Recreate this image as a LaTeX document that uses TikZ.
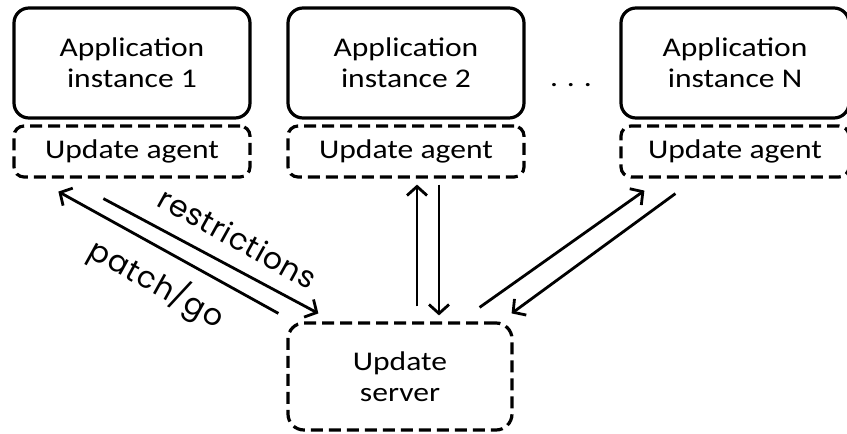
\documentclass[tikz,border=0pt]{standalone}
\usepackage{fontspec}
\setmainfont{Carlito}[FakeStretch=1.17]
\newfontfamily\labelfont{Poppins}[LetterSpace=3]
\usetikzlibrary{arrows.meta}
\begin{document}
\begin{tikzpicture}[x=1pt,y=-1pt,
  boxtext/.style={font=\fontsize{27}{31}\selectfont},
  appbox/.style={draw, line width=3.2pt, rounded corners=15pt, minimum width=236pt,
    minimum height=110pt, inner sep=0pt, align=center, boxtext},
  agentbox/.style={draw, line width=3.2pt, dash pattern=on 12pt off 6pt, rounded corners=10pt,
    minimum width=236pt, minimum height=51pt, inner sep=0pt, boxtext},
  serverbox/.style={draw, line width=3.2pt, dash pattern=on 12pt off 6pt, rounded corners=16pt,
    minimum width=224pt, minimum height=107pt, inner sep=0pt, align=center, boxtext},
  conn/.style={line width=2.8pt, -{Straight Barb[length=9pt,width=20pt,line width=2.8pt]}},
  lbl/.style={font=\labelfont\fontsize{30}{33}\selectfont, rotate=-29, inner sep=0pt}
]
\useasboundingbox (0,0) rectangle (847,434);

\node[appbox] (app1) at (132,63) {Application\\instance 1};
\node[appbox] (app2) at (406,63) {Application\\instance 2};
\node[appbox, minimum width=228pt] (appN) at (735,63) {Application\\instance N};

\node[agentbox] (ag1) at (132,151.5) {Update agent};
\node[agentbox] (ag2) at (406,151.5) {Update agent};
\node[agentbox, minimum width=228pt] (agN) at (735,151.5) {Update agent};

\node[serverbox] (srv) at (400,376.5) {Update\\server};

\node[boxtext, anchor=base, inner sep=0pt] (dots) at (571,86) {.\,\,.\,\,.};

% left pair
\draw[conn] ([shift={(-8,-8)}]srv.north west) -- ([shift={(46,13)}]ag1.south west);
\draw[conn] ([shift={(91,20)}]ag1.south west) -- ([shift={(32,-8)}]srv.north west);
% middle pair
\draw[conn] ([shift={(17,-15)}]srv.north) -- ([shift={(11,6)}]ag2.south);
\draw[conn] ([shift={(33,6)}]ag2.south) -- ([shift={(39,-6)}]srv.north);
% right pair
\draw[conn] ([shift={(-34,-14)}]srv.north east) -- ([shift={(25,12)}]agN.south west);
\draw[conn] ([shift={(56,15)}]agN.south west) -- ([shift={(-2,-8)}]srv.north east);

\node[lbl] (lrestr) at (238,238) {restrictions};
\node[lbl] (lpatch) at (157,284) {patch/go};
\end{tikzpicture}
\end{document}
